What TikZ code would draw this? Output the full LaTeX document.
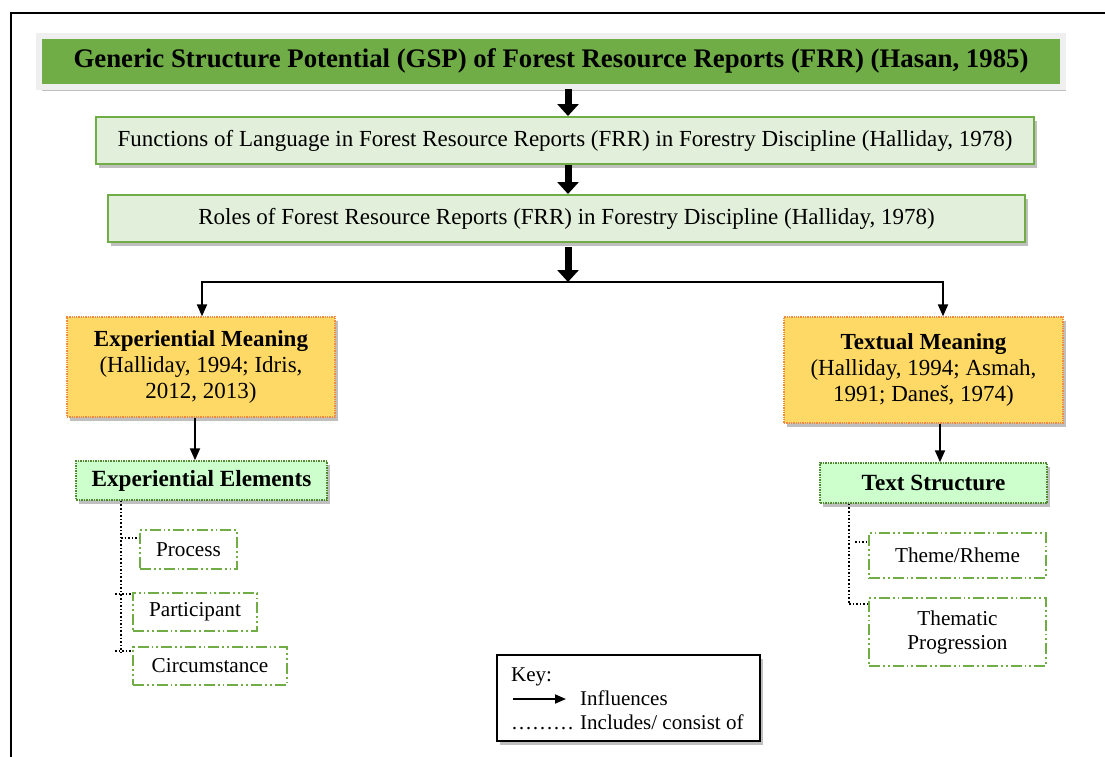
\documentclass[tikz,border=0pt]{standalone}
\usepackage{fontspec}
\setmainfont{Liberation Serif}
\usetikzlibrary{arrows.meta,shadows}
\definecolor{tgreen}{HTML}{70AD47}
\definecolor{tframe}{HTML}{EFEFEF}
\definecolor{lgfill}{HTML}{E2EFDA}
\definecolor{ofill}{HTML}{FFD966}
\definecolor{oborder}{HTML}{F08A3C}
\definecolor{mint}{HTML}{CCFFCC}
\definecolor{dgreen}{HTML}{4E8A2E}
\tikzset{
  shad/.style={drop shadow={shadow xshift=3pt,shadow yshift=-4pt,opacity=0.25,fill=black}},
  titlebox/.style={fill=tgreen,draw=tframe,line width=6pt,minimum width=1024pt,minimum height=51pt,inner sep=0pt,shad,font=\fontsize{26.8}{30}\selectfont\bfseries},
  levelbox/.style={fill=lgfill,draw=tgreen,line width=2pt,inner sep=0pt,shad,font=\fontsize{23}{26}\selectfont},
  meanbox/.style={fill=ofill,draw=oborder,line width=1.3pt,densely dotted,inner sep=0pt,shad,align=center,font=\fontsize{23}{26}\selectfont},
  elembox/.style={fill=mint,draw=dgreen,line width=1.5pt,densely dotted,inner sep=0pt,shad,font=\fontsize{23.2}{26}\selectfont\bfseries},
  leafbox/.style={fill=white,draw=tgreen,line width=2pt,dash pattern=on 11pt off 3pt on 1.8pt off 3pt on 1.8pt off 3pt,inner sep=0pt,align=center,font=\fontsize{21.2}{24}\selectfont},
  keybox/.style={draw=black,line width=2pt,fill=white,inner sep=0pt,shad},
  keytext/.style={inner sep=0pt,anchor=base west,font=\fontsize{21}{24}\selectfont},
  bigarrow/.style={line width=7pt,-{Triangle[width=21pt,length=12pt]}},
  thinarrow/.style={line width=2pt,-{Triangle[width=10pt,length=12pt]}},
  thinline/.style={line width=2.2pt},
  dotline/.style={line width=1.6pt,dotted,line cap=butt},
}
\begin{document}
\begin{tikzpicture}[x=1pt,y=-1pt]
\useasboundingbox (0,0) rectangle (1105,756);
% outer frame (left and top edges visible)
\draw[line width=2pt] (11,780) -- (11,13) -- (1130,13);

\node[titlebox] (title) at (551,61) {Generic Structure Potential (GSP) of Forest Resource Reports (FRR) (Hasan, 1985)};
\node[levelbox,minimum width=938pt,minimum height=47pt] (func) at (565,140.5) {Functions of Language in Forest Resource Reports (FRR) in Forestry Discipline (Halliday, 1978)};
\node[levelbox,minimum width=917pt,minimum height=47pt] (roles) at (566.5,218.5) {Roles of Forest Resource Reports (FRR) in Forestry Discipline (Halliday, 1978)};

\node[meanbox,minimum width=268pt,minimum height=100pt] (expM) at (201,367) {\textbf{Experiential Meaning}\\(Halliday, 1994; Idris,\\2012, 2013)};
\node[meanbox,minimum width=279pt,minimum height=106pt] (textM) at (923.5,370) {\textbf{Textual Meaning}\\(Halliday, 1994; Asmah,\\1991; Daneš, 1974)};

\node[elembox,minimum width=251pt,minimum height=39pt] (expE) at (201.5,480.5) {Experiential Elements};
\node[elembox,minimum width=227pt,minimum height=40pt] (textS) at (933.5,483) {Text Structure};

\node[leafbox,minimum width=97pt,minimum height=39pt] (process) at (188.5,549.5) {Process};
\node[leafbox,minimum width=124pt,minimum height=38pt] (particip) at (195,612) {Participant};
\node[leafbox,minimum width=154pt,minimum height=38pt] (circ) at (210,666) {Circumstance};
\node[leafbox,minimum width=177pt,minimum height=45pt] (theme) at (957.5,555.5) {Theme/Rheme};
\node[leafbox,minimum width=177pt,minimum height=68pt] (thematic) at (957.5,632) {Thematic\\Progression};

% key
\node[keybox,minimum width=263pt,minimum height=86pt] (key) at (628.5,698) {};
\node[keytext] (keyt) at (511,681) {Key:};
\node[keytext] (infl) at (580,705) {Influences};
\node[keytext] (incl) at (580,729) {Includes/ consist of};
\node[keytext] (dots) at (511,729) {………};
\coordinate (ka) at (513,699);
\coordinate (kb) at (566,699);
\draw[line width=1.8pt,-{Triangle[width=9pt,length=11pt]}] (ka) -- (kb);

% thick arrows
\coordinate (split) at (568,282);
\coordinate (lsplit) at (202,282);
\coordinate (rsplit) at (943,282);
\draw[bigarrow] (title.south -| split) ++(0,-1) -- (func.north -| split);
\draw[bigarrow] (func.south -| split) -- (roles.north -| split);
\draw[bigarrow] (roles.south -| split) ++(0,4) -- (split);

\draw[thinline] ([xshift=-1pt]lsplit) -- ([xshift=1pt]rsplit);
\draw[thinarrow] (lsplit) -- (lsplit |- expM.north);
\draw[thinarrow] (rsplit) -- (rsplit |- textM.north);

\coordinate (ea) at (195,0);
\coordinate (ta) at (940,0);
\draw[thinarrow] (ea |- expM.south) -- (ea |- expE.north);
\draw[thinarrow] (ta |- textM.south) -- (ta |- textS.north);

% left tree
\coordinate (lv) at (121,0);
\coordinate (lvend) at (121,652);
\draw[dotline] (lv |- expE.south) -- (lvend);
\draw[dotline] (lv |- 0,538) -- ([yshift=11.5pt]process.west);
\coordinate (pa) at (115,594);
\draw[dotline] (pa) -- (particip.north west |- pa);
\coordinate (ca) at (115,651);
\draw[dotline] (ca) -- (circ.north west |- ca);

% right tree
\coordinate (rv) at (849,0);
\coordinate (rvend) at (849,604);
\draw[dotline] (rv |- textS.south) -- (rvend);
\coordinate (tha) at (855,542);
\draw[dotline] (tha) -- (theme.west |- tha);
\draw[dotline] (rvend) -- (thematic.west |- rvend);
\end{tikzpicture}
\end{document}
